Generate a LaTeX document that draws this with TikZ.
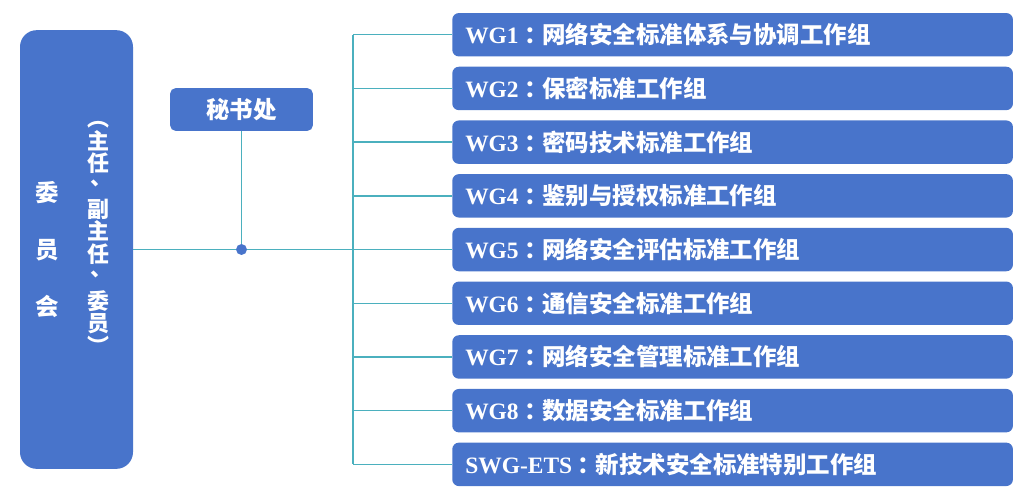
\documentclass[tikz,border=0pt]{standalone}
\usepackage{fontspec}
\setmainfont{Liberation Serif}
\newfontfamily\cjk{Noto Sans CJK SC}
\definecolor{boxblue}{HTML}{4874CB}
\definecolor{linkteal}{HTML}{4BB0BE}
\newcommand\vcomma{\makebox[1em][l]{\kern-7pt\raisebox{-3pt}{︑}}}

\begin{document}
\begin{tikzpicture}[x=0.75pt,y=-0.75pt,
  bluebox/.style={fill=boxblue,text=white,font=\bfseries\fontsize{17.6pt}{20pt}\selectfont},
  wgbox/.style={bluebox,rounded corners=5pt,anchor=west,minimum height=32.6pt,
    text width=401pt,inner xsep=9.75pt,inner ysep=0pt,align=left},
  link/.style={draw=linkteal,line width=1.1pt}]

  \useasboundingbox (0,0) rectangle (1030,493);

  \node[bluebox,rounded corners=12.5pt,minimum width=84.75pt,minimum height=329pt] (committee) at (76.5,249.5) {};
  \node[text=white,align=center,font=\cjk\bfseries\fontsize{17.6pt}{42.75pt}\selectfont] (cname) at (47,250) {委\\员\\会};
  \node[text=white,align=center,font=\cjk\bfseries\fontsize{16.5pt}{17pt}\selectfont] (cmembers) at (98,238)
    {︵\\主\\任\\\vcomma\\副\\主\\任\\\vcomma\\委\\员\\︶};

  \node[bluebox,rounded corners=4pt,minimum width=107pt,minimum height=32pt] (secretariat) at (241.5,109.5) {\cjk 秘书处};

  \coordinate (trunk) at (353,249.5);
  \coordinate (dot) at (secretariat |- committee.east);

  \foreach \k/\id/\name in {0/WG1/网络安全标准体系与协调工作组, 1/WG2/保密标准工作组,
      2/WG3/密码技术标准工作组, 3/WG4/鉴别与授权标准工作组, 4/WG5/网络安全评估标准工作组,
      5/WG6/通信安全标准工作组, 6/WG7/网络安全管理标准工作组, 7/WG8/数据安全标准工作组,
      8/SWG-ETS/新技术安全标准特别工作组} {
    \node[wgbox] (wg\k) at (452,{34.75+53.7*\k}) {\id{\cjk \kern4pt：\kern-4pt\name}};
    \draw[link] (trunk |- wg\k.west) -- (wg\k.west);
  }

  \draw[link] (trunk |- wg0.west) -- (trunk |- wg8.west);
  \draw[link] (committee.east) -- (trunk);
  \draw[link] (secretariat.south) -- (dot);
  \fill[boxblue] (dot) circle (4.1pt);
\end{tikzpicture}
\end{document}
